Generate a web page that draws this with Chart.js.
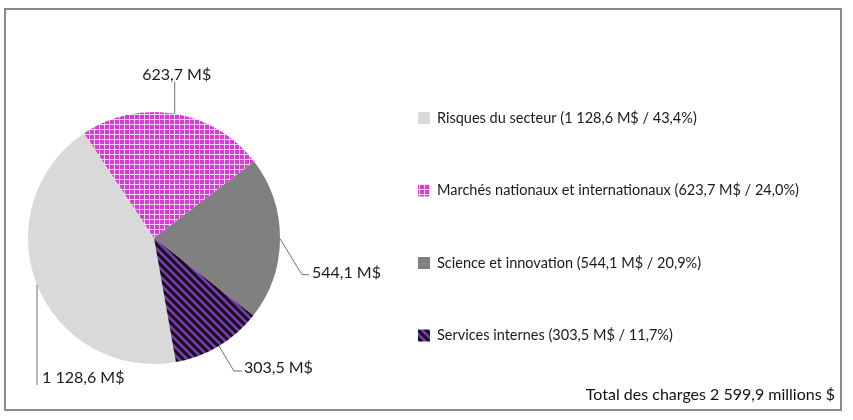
<!DOCTYPE html>
<html>
<head>
<meta charset="utf-8">
<script src="https://cdn.jsdelivr.net/npm/chart.js@4"></script>
<style>
  body { margin: 0; background: #fff; }
  #wrap { width: 853px; height: 420px; position: relative; }
</style>
</head>
<body>
<div id="wrap"><canvas id="myChart"></canvas></div>
<script>
const ctx = document.getElementById('myChart');

// data
const labels = [
  'Risques du secteur',
  'Marchés nationaux et internationaux',
  'Science et innovation',
  'Services internes'
];
const values = [1128.6, 623.7, 544.1, 303.5];
const totalText = 'Total des charges';
const totalUnit = 'millions $';

// French number format: 1 128,6
function fmt(v) {
  const parts = v.toFixed(1).split('.');
  return parts[0].replace(/\B(?=(\d{3})+(?!\d))/g, ' ') + ',' + parts[1];
}

const c2d = ctx.getContext('2d');

function gridPattern() {
  const c = document.createElement('canvas');
  c.width = 5; c.height = 5;
  const g = c.getContext('2d');
  g.fillStyle = '#f6d0f6';
  g.fillRect(0, 0, 5, 5);
  g.fillStyle = '#d23ed2';
  g.fillRect(0, 0, 4, 4);
  return c2d.createPattern(c, 'repeat');
}

function stripePattern() {
  const c = document.createElement('canvas');
  c.width = 8; c.height = 8;
  const g = c.getContext('2d');
  g.fillStyle = '#7b37b5';
  g.fillRect(0, 0, 8, 8);
  g.strokeStyle = '#111';
  g.lineWidth = 3;
  for (let k = -8; k <= 8; k += 8) {
    g.beginPath();
    g.moveTo(k - 1, -1);
    g.lineTo(k + 9, 9);
    g.stroke();
  }
  return c2d.createPattern(c, 'repeat');
}

const colors = ['#d9d9d9', gridPattern(), '#808080', stripePattern()];

// leader lines (relative to slice edge midpoint) and text offsets
const leaders = [
  { path: [[0, 100]], text: [5, 93], align: 'left' },
  { path: [[0, -32]], text: [2, -39], align: 'center' },
  { path: [[22, 36], [29, 36]], text: [32, 34], align: 'left' },
  { path: [[15, 25], [23, 25]], text: [25, 22], align: 'left' }
];

const FONT = 'Lato, "Open Sans", sans-serif';

const decor = {
  id: 'decor',
  afterDraw(chart) {
    const g = chart.ctx;
    const total = values.reduce((a, b) => a + b, 0);
    const arcs = chart.getDatasetMeta(0).data;
    g.save();

    // data labels with leader lines
    arcs.forEach((arc, i) => {
      const mid = (arc.startAngle + arc.endAngle) / 2;
      const x0 = arc.x + Math.cos(mid) * arc.outerRadius;
      const y0 = arc.y + Math.sin(mid) * arc.outerRadius;
      const L = leaders[i];
      g.strokeStyle = '#6e6e6e';
      g.lineWidth = 1;
      g.beginPath();
      g.moveTo(x0, y0);
      L.path.forEach(p => g.lineTo(x0 + p[0], y0 + p[1]));
      g.stroke();
      g.fillStyle = '#1a1a1a';
      g.font = '16px ' + FONT;
      g.textAlign = L.align;
      g.textBaseline = 'middle';
      g.fillText(fmt(values[i]) + ' M$', x0 + L.text[0], y0 + L.text[1]);
    });

    // legend
    const lx = 418, ly = 118, step = 72.5;
    labels.forEach((lab, i) => {
      const y = ly + i * step;
      g.fillStyle = colors[i];
      g.fillRect(lx, y - 6, 12, 12);
      g.fillStyle = '#1a1a1a';
      g.font = '14.5px ' + FONT;
      g.textAlign = 'left';
      g.textBaseline = 'middle';
      const pct = (values[i] / total * 100).toFixed(1).replace('.', ',');
      g.fillText(lab + ' (' + fmt(values[i]) + ' M$ / ' + pct + '%)', lx + 19, y);
    });

    // total
    g.font = '16px ' + FONT;
    g.textAlign = 'right';
    g.fillStyle = '#111';
    g.fillText(totalText + ' ' + fmt(total) + ' ' + totalUnit, 835, 395);

    // frame
    g.strokeStyle = '#8a8a8a';
    g.lineWidth = 2;
    g.strokeRect(5, 9, 836, 401);
    g.restore();
  }
};

new Chart(ctx, {
  type: 'pie',
  data: {
    labels: labels,
    datasets: [{
      data: values,
      backgroundColor: colors,
      borderWidth: 0
    }]
  },
  options: {
    responsive: true,
    maintainAspectRatio: false,
    animation: false,
    rotation: 170,
    layout: { padding: { left: 28, right: 573, top: 112, bottom: 56 } },
    plugins: {
      legend: { display: false },
      tooltip: { enabled: false }
    }
  },
  plugins: [decor]
});
</script>
</body>
</html>
